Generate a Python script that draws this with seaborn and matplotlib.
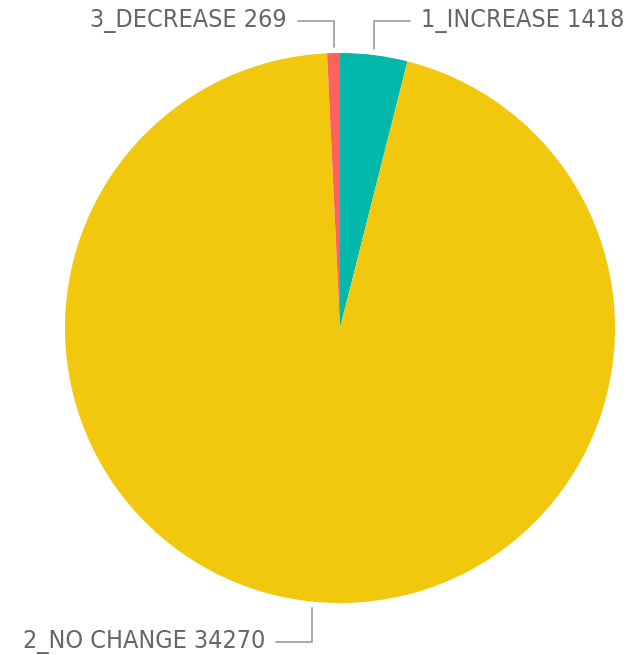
import numpy as np
import matplotlib
matplotlib.use("Agg")
import matplotlib.pyplot as plt
import seaborn as sns

# Counts per change category, drawn clockwise from 12 o'clock
categories = ["1_INCREASE", "2_NO CHANGE", "3_DECREASE"]
counts = [1418, 34270, 269]
colors = ["#01B8AA", "#F2C80F", "#FD625E"]

sns.set_theme(style="white")
plt.rcParams["font.family"] = ["DejaVu Sans"]
plt.rcParams["font.stretch"] = "condensed"

W, H = 643, 655
fig = plt.figure(figsize=(W / 100, H / 100), dpi=100)
ax = fig.add_axes([0, 0, 1, 1])

cx, cy, R = 340, H - 328, 275
wedges, _ = ax.pie(counts, colors=colors, startangle=90, counterclock=False,
                   center=(cx, cy), radius=R, frame=True,
                   wedgeprops=dict(linewidth=0))
ax.set_xlim(0, W)
ax.set_ylim(0, H)
ax.set_aspect("equal")
ax.axis("off")

# leader lines: from the wedge's mid angle straight up/down, then sideways
line_color = "#9a9a9a"
text_color = "#666666"
top_level = H - 21
bottom_level = H - 642
arm = 36
for w, cat, n in zip(wedges, categories, counts):
    mid = np.deg2rad((w.theta1 + w.theta2) / 2)
    x0 = cx + R * np.cos(mid)
    upper = np.sin(mid) > 0
    y0 = cy + (R - 2) * np.sin(mid) + (8 if upper else -8)
    level = top_level if upper else bottom_level
    side = 1 if x0 > cx else -1
    x1 = x0 + side * arm
    ax.plot([x0, x0, x1], [y0, level, level], color=line_color, lw=1.2,
            solid_joinstyle="miter")
    ax.text(x1 + side * 11, level, f"{cat} {n}", ha="left" if side > 0 else "right",
            va="center", fontsize=18, fontstretch="condensed", color=text_color)

fig.savefig("out.png", dpi=100, facecolor="white")
